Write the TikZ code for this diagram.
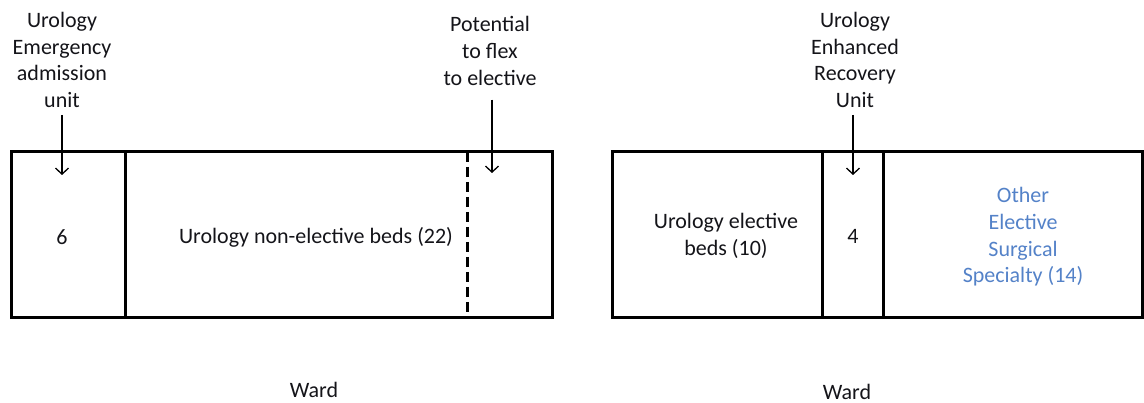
\documentclass[tikz,border=0pt]{standalone}
\usepackage{fontspec}
\setmainfont{Carlito}
\usetikzlibrary{arrows.meta}
\definecolor{otherblue}{RGB}{84,130,200}
\definecolor{ink}{RGB}{20,20,25}
\begin{document}
\begin{tikzpicture}[x=1pt,y=-1pt,
  wall/.style={line width=3pt,line cap=rect},
  flexline/.style={line width=3pt,dash pattern=on 10pt off 5pt},
  lbl/.style={align=center,text=ink,inner sep=0pt,
    font=\fontsize{22}{26.7}\selectfont},
  feed/.style={-{Straight Barb[length=6pt,width=13pt]},line width=1.3pt}]
\useasboundingbox (0,0) rectangle (1144,403);

% ---- emergency / non-elective ward ----
\draw[wall] (11,152) rectangle (552,318);
\draw[wall] (125,152) -- (125,318);
\draw[flexline] (467,152) -- (467,318);

\node[lbl] (eau) at (62,60) {Urology\\Emergency\\admission\\unit};
\node[lbl] (flex) at (490,51) {Potential\\to flex\\to elective};
\coordinate (eauin) at (62,175);
\coordinate (flexin) at (492,173);
\draw[feed] ([yshift=-7pt]eau.south -| eauin) -- (eauin);
\draw[feed] ([yshift=-14pt]flex.south -| flexin) -- (flexin);

\node[lbl] (six) at (62,237) {6};
\node[lbl] (nonel) at (316,237) {Urology non-elective beds (22)};
\node[lbl] (wardA) at (314,390) {Ward};

% ---- elective ward ----
\draw[wall] (612,152) rectangle (1142,318);
\draw[wall] (822,152) -- (822,318);
\draw[wall] (883,152) -- (883,318);

\node[lbl] (eru) at (855,60) {Urology\\Enhanced\\Recovery\\Unit};
\coordinate (eruin) at (853,175);
\draw[feed] ([yshift=-7pt]eru.south -| eruin) -- (eruin);

\node[lbl] (elec) at (726,236) {Urology elective\\beds (10)};
\node[lbl] (four) at (853,236) {4};
\node[lbl,text=otherblue] (other) at (1023,237) {Other\\Elective\\Surgical\\Specialty (14)};
\node[lbl] (wardB) at (847,392) {Ward};
\end{tikzpicture}
\end{document}
